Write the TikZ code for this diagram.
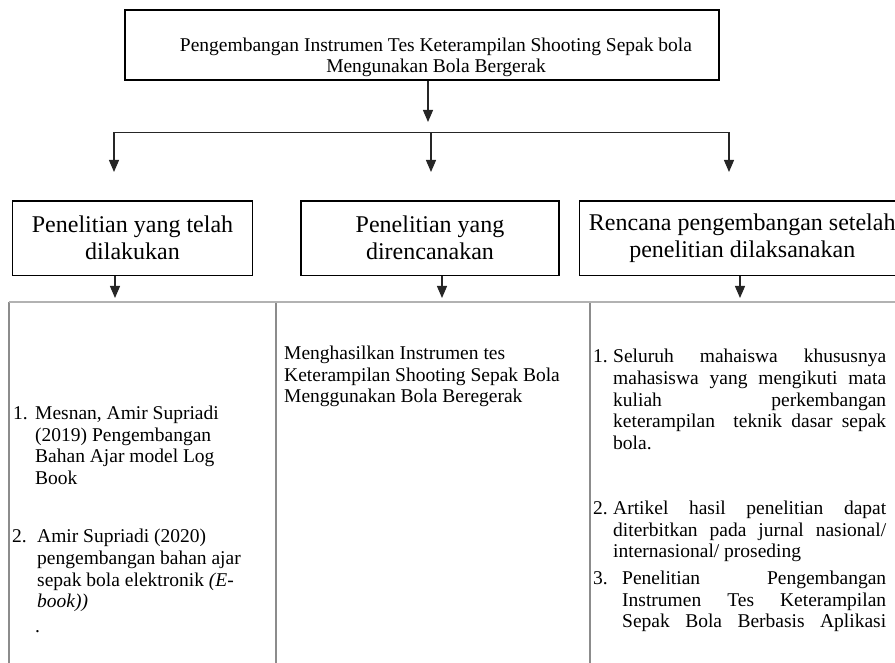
\documentclass[tikz,border=0pt]{standalone}
\usepackage{fontspec}
\setmainfont{Liberation Serif}
\usetikzlibrary{arrows.meta}
\newcommand\tfont{\fontsize{19.5pt}{21.6pt}\selectfont}
\newcommand\hfontx{\fontsize{19.5pt}{21pt}\selectfont}
\newcommand\bfontx{\fontsize{24pt}{27pt}\selectfont}
\newcommand\tpar[2]{\parbox[t]{#1}{\tfont #2}}
\newcommand\jl[2]{\makebox[#1][s]{#2}}
\begin{document}
\begin{tikzpicture}[x=1pt,y=-1pt,
  boxnode/.style={draw=black, line width=1.1pt, inner sep=0pt},
  conn/.style={draw=black!85, line width=1.2pt},
  arr/.style={conn, -{Triangle[length=12pt,width=10pt]}},
  tline/.style={draw=black!45, line width=1.1pt},
  ttop/.style={draw=black!30, line width=2pt},
  txt/.style={anchor=base west, inner sep=0pt, font=\tfont}]
\useasboundingbox (0,0) rectangle (895,663);

% top box
\node[boxnode, minimum width=594pt, minimum height=70pt] (topbox) at (422,45) {};
\node[font=\hfontx, align=center, inner sep=0pt] (title) at (436,57.5)
  {Pengembangan Instrumen Tes Keterampilan Shooting Sepak bola\\Mengunakan Bola Bergerak};

\coordinate (a0) at (428,122);
\draw[arr] (topbox.south -| a0) -- (a0);

% branch
\coordinate (bl) at (114,132.5);
\coordinate (bm) at (431,132.5);
\coordinate (br) at (729,132.5);
\coordinate (t1) at (114,172);
\coordinate (t2) at (431,172);
\coordinate (t3) at (729,172);
\draw[conn, line cap=rect] (bl) -- (br);
\draw[arr] (bl) -- (t1);
\draw[arr] (bm) -- (t2);
\draw[arr] (br) -- (t3);

% second row
\node[boxnode, font=\bfontx, align=center, minimum width=239.8pt, minimum height=74.5pt] (b1) at (132.5,238.25)
  {Penelitian yang telah\\dilakukan};
\node[boxnode, font=\bfontx, align=center, minimum width=258pt, minimum height=74.5pt] (b2) at (430,238.25)
  {Penelitian yang\\direncanakan};
\node[boxnode, font=\bfontx, align=center, minimum width=325.5pt, minimum height=74.5pt] (b3) at (742.25,238.25)
  {Rencana pengembangan setelah\\penelitian dilaksanakan};

\coordinate (u1) at (115,298);
\coordinate (u2) at (442,298);
\coordinate (u3) at (740,298);
\draw[arr] (b1.south -| u1) -- (u1);
\draw[arr] (b2.south -| u2) -- (u2);
\draw[arr] (b3.south -| u3) -- (u3);

% table
\coordinate (c0) at (9,302);
\coordinate (c1) at (276,302);
\coordinate (c2) at (590,302);
\coordinate (c3) at (905,302);
\draw[tline] (c0) -- ++(0,370);
\draw[tline] (c1) -- ++(0,370);
\draw[tline] (c2) -- ++(0,370);
\draw[ttop] (c0) -- (c3);

% column 1
\node[txt] (n11) at (13,419.5) {1.};
\node[txt] (i11) at (35,419.5) {\tpar{235pt}{Mesnan, Amir Supriadi\\(2019) Pengembangan\\Bahan Ajar model Log\\Book}};
\node[txt] (n12) at (12,542.8) {2.};
\node[txt] (i12) at (37,542.8) {\tpar{235pt}{Amir Supriadi (2020)\\pengembangan bahan ajar\\sepak bola elektronik \textit{(E-}\\\textit{book))}}};
\node[txt] (dot1) at (35,632) {.};

% column 2
\node[txt] (i21) at (284,359.5) {\tpar{300pt}{Menghasilkan Instrumen tes\\Keterampilan Shooting Sepak Bola\\Menggunakan Bola Beregerak}};

% column 3
\node[txt] (n31) at (593,362.8) {1.};
\node[txt] (i31) at (613,362.8) {\tpar{273pt}{\jl{273pt}{Seluruh mahaiswa khususnya}\\\jl{273pt}{mahasiswa yang mengikuti mata}\\\jl{273pt}{kuliah perkembangan}\\\jl{273pt}{keterampilan\ \ teknik dasar sepak}\\bola.}};
\node[txt] (n32) at (593,514.5) {2.};
\node[txt] (i32) at (613,514.5) {\tpar{273pt}{\jl{273pt}{Artikel hasil penelitian dapat}\\\jl{273pt}{diterbitkan pada jurnal nasional/}\\internasional/ proseding}};
\node[txt] (n33) at (593,584.5) {3.};
\node[txt] (i33) at (622,584.5) {\tpar{264pt}{\jl{264pt}{Penelitian Pengembangan}\\\jl{264pt}{Instrumen Tes Keterampilan}\\\jl{264pt}{Sepak Bola Berbasis Aplikasi}}};
\end{tikzpicture}
\end{document}
